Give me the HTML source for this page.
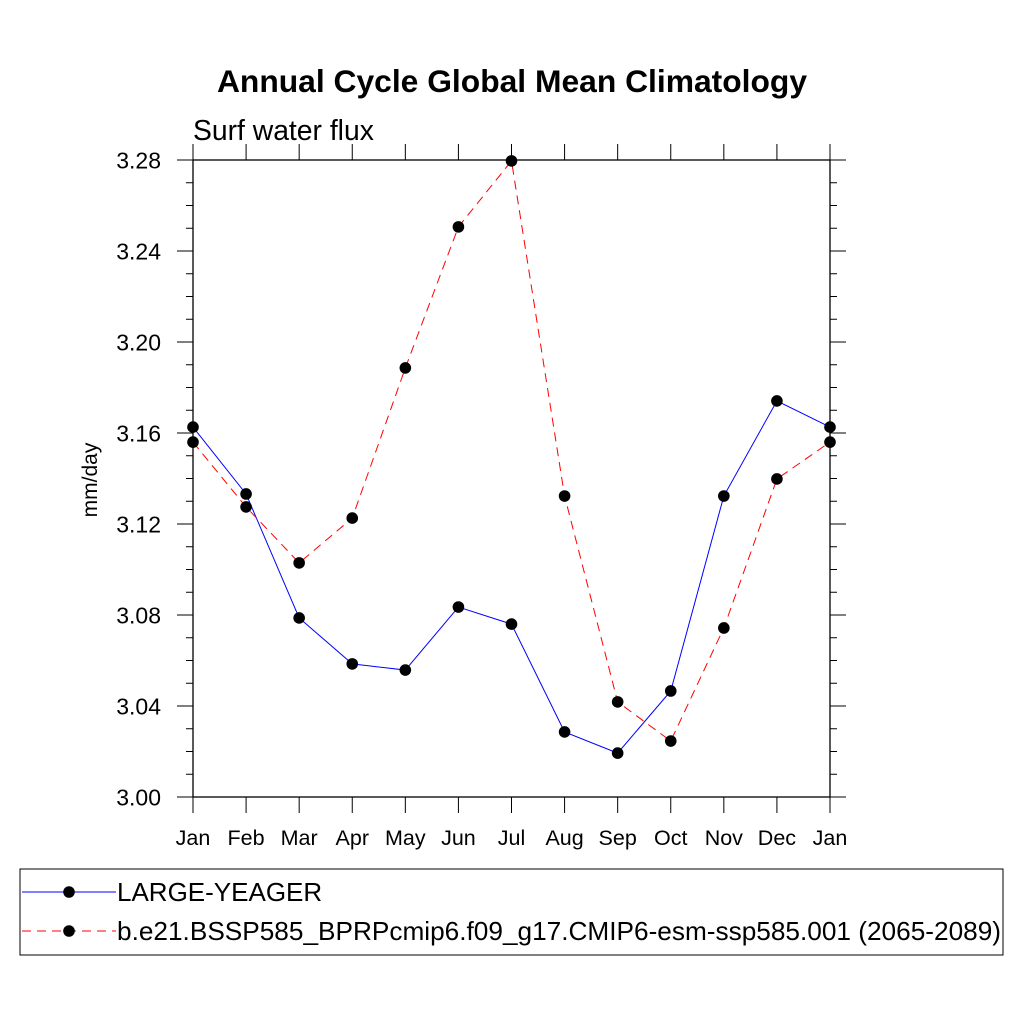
<!DOCTYPE html>
<html><head><meta charset="utf-8"><style>
html,body{margin:0;padding:0;background:#fff;}
svg{display:block;font-family:"Liberation Sans",sans-serif;}
</style></head><body>
<svg id="chart" width="1024" height="1024" viewBox="0 0 1024 1024">
<text x="512" y="92" text-anchor="middle" font-size="31.8" font-weight="bold">Annual Cycle Global Mean Climatology</text>
<text x="193" y="140" font-size="28.3">Surf water flux</text>
<text transform="translate(97,480) rotate(-90)" text-anchor="middle" font-size="21">mm/day</text>
<rect x="193" y="160" width="637" height="637" fill="none" stroke="#000" stroke-width="1.3"/>
<g id="axes"></g>
<g id="series"></g>
<rect x="20" y="869" width="983" height="86" fill="none" stroke="#000" stroke-width="1"/>
<g>
<line x1="22" y1="892" x2="116" y2="892" stroke="#00f" stroke-width="1"/>
<circle cx="69" cy="892" r="5.8" fill="#000"/>
<text x="117" y="901" font-size="26">LARGE-YEAGER</text>
</g>
<g>
<line x1="22" y1="931" x2="116" y2="931" stroke="#f00" stroke-width="1" stroke-dasharray="9,6"/>
<circle cx="69" cy="931" r="5.8" fill="#000"/>
<text x="117" y="940" font-size="26" textLength="884" lengthAdjust="spacingAndGlyphs">b.e21.BSSP585_BPRPcmip6.f09_g17.CMIP6-esm-ssp585.001 (2065-2089)</text>
</g>
</svg>
<script>
const months = ["Jan","Feb","Mar","Apr","May","Jun","Jul","Aug","Sep","Oct","Nov","Dec","Jan"];
const blueValues = [3.1626,3.1332,3.0787,3.0585,3.0558,3.0835,3.0760,3.0286,3.0193,3.0466,3.1323,3.1741,3.1626];
const redValues = [3.1560,3.1275,3.1029,3.1226,3.1886,3.2506,3.2796,3.1323,3.0418,3.0246,3.0743,3.1398,3.1560];
const yTickLabels = ["3.00","3.04","3.08","3.12","3.16","3.20","3.24","3.28"];
const NS="http://www.w3.org/2000/svg";
const X0=193,X1=830,Y0=797,Y1=160,YMIN=3.0,YMAX=3.28;
function xs(i){return X0+(X1-X0)*i/(months.length-1);}
function ys(v){return Y0-(v-YMIN)/(YMAX-YMIN)*(Y0-Y1);}
function mk(tag,attrs,parent){const e=document.createElementNS(NS,tag);for(const k in attrs)e.setAttribute(k,attrs[k]);parent.appendChild(e);return e;}
const axes=document.getElementById('axes');
for(let k=0;k<=28;k++){
  const v=YMIN+k*0.01,y=ys(v),major=k%4===0,len=major?16:7;
  const t1=mk('line',{x1:X0-len,y1:y,x2:X0,y2:y,stroke:'#000','stroke-width':1},axes);
  
  
  const t2=mk('line',{x1:X1,y1:y,x2:X1+len,y2:y,stroke:'#000','stroke-width':1},axes);
  
  
}
yTickLabels.forEach(s=>{
  const t=mk('text',{x:161,y:ys(parseFloat(s))+8.5,'text-anchor':'end','font-size':23},axes);
  t.textContent=s;
  
  
});
months.forEach((m,i)=>{
  const x=xs(i);
  const b=mk('line',{x1:x,y1:Y0,x2:x,y2:Y0+16,stroke:'#000','stroke-width':1},axes);
  
  
  const t=mk('line',{x1:x,y1:Y1-16,x2:x,y2:Y1,stroke:'#000','stroke-width':1},axes);
  
  
  const l=mk('text',{x:x,y:845,'text-anchor':'middle','font-size':21.5},axes);
  l.textContent=m;
  
  
});
const series=document.getElementById('series');
function draw(vals,color,dash,name){
  const pts=vals.map((v,i)=>xs(i)+','+ys(v)).join(' ');
  const pl=mk('polyline',{points:pts,fill:'none',stroke:color,'stroke-width':1,'stroke-dasharray':dash},series);
  
  
  vals.forEach((v,i)=>{
    const c=mk('circle',{cx:xs(i),cy:ys(v),r:5.8,fill:'#000'},series);
    
    
  });
}
draw(blueValues,'#00f','none','large-yeager');
draw(redValues,'#f00','9,6','ssp585');
</script>
</body></html>
